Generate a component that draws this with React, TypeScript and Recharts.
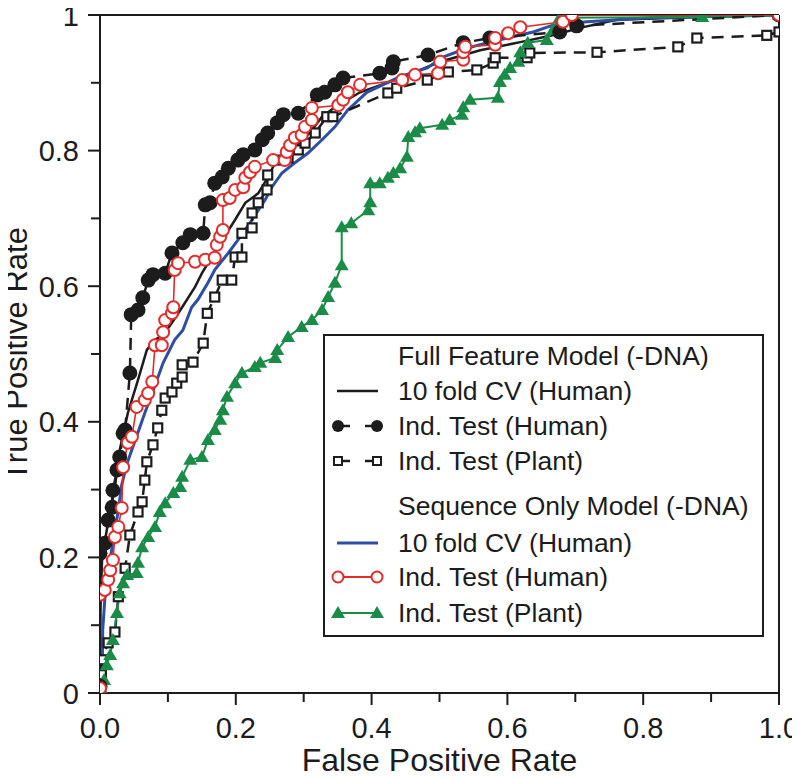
import React from "react";
import { LineChart, Line, XAxis, YAxis, ReferenceLine, Label } from "recharts";

const FONT = '"Liberation Sans", Arial, Helvetica, sans-serif';
const INK = "#1c1c1c";
const BLUE = "#2e4ea3";
const RED = "#e42a2a";
const GREEN = "#1b8c47";

const axisTicks = [0, 0.1, 0.2, 0.3, 0.4, 0.5, 0.6, 0.7, 0.8, 0.9, 1];

// Full Feature Model, 10 fold CV (Human)
const fullCvFpr = [0, 0, 0.001, 0.003, 0.006, 0.01, 0.016, 0.022, 0.029, 0.041, 0.056, 0.069, 0.081, 0.093, 0.106, 0.121, 0.14, 0.15, 0.162, 0.18, 0.199, 0.214, 0.233, 0.247, 0.258, 0.275, 0.297, 0.312, 0.327, 0.346, 0.383, 0.442, 0.501, 0.56, 0.619, 0.67, 0.707, 0.761, 0.884, 1];
const fullCvTpr = [0, 0.078, 0.137, 0.196, 0.218, 0.24, 0.277, 0.304, 0.358, 0.413, 0.462, 0.506, 0.521, 0.528, 0.546, 0.569, 0.599, 0.619, 0.639, 0.668, 0.698, 0.723, 0.737, 0.76, 0.782, 0.801, 0.813, 0.83, 0.85, 0.864, 0.886, 0.907, 0.931, 0.948, 0.96, 0.971, 0.981, 0.993, 0.997, 1];

// Full Feature Model, Ind. Test (Human)
const fullHumanFpr = [0, 0, 0.007, 0.012, 0.018, 0.019, 0.025, 0.029, 0.034, 0.037, 0.044, 0.046, 0.056, 0.063, 0.071, 0.078, 0.096, 0.106, 0.122, 0.133, 0.152, 0.155, 0.162, 0.169, 0.18, 0.189, 0.203, 0.211, 0.228, 0.239, 0.247, 0.261, 0.27, 0.292, 0.32, 0.331, 0.346, 0.358, 0.412, 0.43, 0.432, 0.483, 0.535, 0.574, 0.677, 0.702, 1];
const fullHumanTpr = [0.01, 0.206, 0.221, 0.255, 0.274, 0.299, 0.329, 0.348, 0.383, 0.388, 0.472, 0.558, 0.565, 0.583, 0.609, 0.617, 0.619, 0.649, 0.664, 0.676, 0.678, 0.72, 0.723, 0.752, 0.761, 0.774, 0.786, 0.794, 0.801, 0.816, 0.826, 0.841, 0.853, 0.855, 0.882, 0.886, 0.897, 0.907, 0.914, 0.922, 0.931, 0.941, 0.959, 0.966, 0.975, 0.984, 1];

// Full Feature Model, Ind. Test (Plant)
const fullPlantFpr = [0, 0.002, 0.003, 0.012, 0.022, 0.027, 0.037, 0.044, 0.056, 0.062, 0.066, 0.069, 0.078, 0.085, 0.091, 0.096, 0.106, 0.113, 0.121, 0.121, 0.137, 0.152, 0.158, 0.169, 0.18, 0.194, 0.199, 0.209, 0.209, 0.224, 0.224, 0.233, 0.246, 0.247, 0.261, 0.277, 0.292, 0.302, 0.317, 0.334, 0.343, 0.424, 0.437, 0.482, 0.513, 0.555, 0.579, 0.582, 0.629, 0.633, 0.732, 0.851, 0.879, 0.982, 1];
const fullPlantTpr = [0.007, 0.027, 0.049, 0.074, 0.09, 0.142, 0.184, 0.233, 0.267, 0.282, 0.314, 0.341, 0.366, 0.391, 0.417, 0.435, 0.444, 0.457, 0.466, 0.484, 0.488, 0.516, 0.56, 0.584, 0.609, 0.609, 0.643, 0.643, 0.678, 0.686, 0.708, 0.723, 0.742, 0.764, 0.786, 0.789, 0.801, 0.811, 0.826, 0.85, 0.85, 0.885, 0.892, 0.904, 0.916, 0.919, 0.929, 0.937, 0.937, 0.944, 0.945, 0.953, 0.966, 0.97, 0.975];

// Sequence Only Model, 10 fold CV (Human)
const seqCvFpr = [0, 0.003, 0.004, 0.007, 0.012, 0.019, 0.027, 0.032, 0.04, 0.052, 0.066, 0.084, 0.093, 0.11, 0.122, 0.135, 0.144, 0.159, 0.169, 0.189, 0.203, 0.224, 0.243, 0.253, 0.268, 0.287, 0.306, 0.327, 0.346, 0.365, 0.393, 0.442, 0.482, 0.505, 0.54, 0.574, 0.608, 0.638, 0.667, 0.717, 0.81, 1];
const seqCvTpr = [0, 0.004, 0.093, 0.137, 0.181, 0.221, 0.27, 0.307, 0.339, 0.373, 0.413, 0.462, 0.487, 0.521, 0.535, 0.569, 0.58, 0.605, 0.624, 0.649, 0.668, 0.698, 0.727, 0.746, 0.767, 0.782, 0.796, 0.816, 0.835, 0.86, 0.886, 0.909, 0.922, 0.938, 0.951, 0.96, 0.968, 0.975, 0.985, 0.99, 0.996, 1];

// Sequence Only Model, Ind. Test (Human)
const seqHumanFpr = [0, 0, 0.007, 0.012, 0.015, 0.019, 0.022, 0.027, 0.032, 0.034, 0.041, 0.047, 0.054, 0.066, 0.071, 0.077, 0.081, 0.091, 0.093, 0.096, 0.106, 0.108, 0.11, 0.115, 0.14, 0.155, 0.169, 0.172, 0.177, 0.181, 0.181, 0.191, 0.199, 0.211, 0.214, 0.221, 0.228, 0.255, 0.272, 0.275, 0.28, 0.287, 0.297, 0.302, 0.312, 0.312, 0.351, 0.358, 0.365, 0.383, 0.445, 0.464, 0.498, 0.501, 0.535, 0.535, 0.538, 0.582, 0.582, 0.601, 0.619, 0.682, 0.695, 1];
const seqHumanTpr = [0.007, 0.145, 0.152, 0.167, 0.181, 0.196, 0.23, 0.245, 0.273, 0.333, 0.369, 0.378, 0.422, 0.432, 0.442, 0.459, 0.513, 0.513, 0.532, 0.55, 0.56, 0.569, 0.624, 0.634, 0.636, 0.639, 0.642, 0.661, 0.673, 0.683, 0.727, 0.73, 0.742, 0.746, 0.76, 0.768, 0.776, 0.786, 0.786, 0.798, 0.808, 0.819, 0.823, 0.835, 0.845, 0.863, 0.867, 0.875, 0.886, 0.897, 0.904, 0.912, 0.914, 0.931, 0.934, 0.945, 0.953, 0.956, 0.966, 0.973, 0.982, 0.99, 1, 1];

// Sequence Only Model, Ind. Test (Plant)
const seqPlantFpr = [0, 0.003, 0.006, 0.01, 0.015, 0.019, 0.025, 0.029, 0.034, 0.04, 0.054, 0.056, 0.062, 0.071, 0.081, 0.088, 0.096, 0.108, 0.118, 0.121, 0.133, 0.15, 0.159, 0.169, 0.177, 0.181, 0.187, 0.199, 0.209, 0.228, 0.236, 0.258, 0.261, 0.277, 0.297, 0.312, 0.327, 0.336, 0.346, 0.356, 0.356, 0.37, 0.395, 0.398, 0.398, 0.412, 0.424, 0.432, 0.442, 0.452, 0.454, 0.464, 0.471, 0.504, 0.515, 0.533, 0.535, 0.545, 0.586, 0.589, 0.596, 0.604, 0.616, 0.619, 0.63, 0.658, 0.667, 0.677, 0.887, 1];
const seqPlantTpr = [0, 0.004, 0.019, 0.041, 0.056, 0.078, 0.118, 0.147, 0.162, 0.174, 0.177, 0.192, 0.215, 0.23, 0.245, 0.267, 0.28, 0.295, 0.304, 0.319, 0.344, 0.348, 0.373, 0.388, 0.403, 0.417, 0.437, 0.457, 0.472, 0.481, 0.487, 0.494, 0.506, 0.525, 0.54, 0.55, 0.565, 0.584, 0.605, 0.631, 0.687, 0.693, 0.712, 0.724, 0.752, 0.752, 0.76, 0.767, 0.774, 0.791, 0.82, 0.827, 0.833, 0.838, 0.845, 0.853, 0.864, 0.875, 0.878, 0.901, 0.912, 0.922, 0.931, 0.945, 0.959, 0.963, 0.978, 0.996, 0.997, 1];

const zip = (xs: number[], ys: number[]) => xs.map((x, i) => ({ x, y: ys[i] }));

const XTick = (props: any) => {
  const { x, y, payload } = props;
  const v = payload.value;
  const major = Math.round(v * 10) % 2 === 0;
  return (
    <g>
      <line x1={x} x2={x} y1={y} y2={y + (major ? 12 : 9)} stroke={INK} strokeWidth={2} />
      {major && (
        <text x={x} y={y + 45} textAnchor="middle" fontSize={29} fontFamily={FONT} fill={INK}>
          {v.toFixed(1)}
        </text>
      )}
    </g>
  );
};

const YTick = (props: any) => {
  const { x, y, payload } = props;
  const v = payload.value;
  const major = Math.round(v * 10) % 2 === 0;
  const text = v === 0 ? "0" : v === 1 ? "1" : v.toFixed(1);
  return (
    <g>
      <line x1={x} x2={x - (major ? 12 : 9)} y1={y} y2={y} stroke={INK} strokeWidth={2} />
      {major && (
        <text x={x - 21} y={y + 10.5} textAnchor="end" fontSize={29} fontFamily={FONT} fill={INK}>
          {text}
        </text>
      )}
    </g>
  );
};

const blackDot = (p: any) => <circle key={`b${p.index}`} cx={p.cx} cy={p.cy} r={7.5} fill={INK} />;
const redDot = (p: any) => (
  <circle key={`r${p.index}`} cx={p.cx} cy={p.cy} r={6} fill="#fff" stroke={RED} strokeWidth={2} />
);
const squareDot = (p: any) => (
  <rect key={`s${p.index}`} x={p.cx - 4.5} y={p.cy - 4.5} width={9} height={9} fill="#fff" stroke={INK} strokeWidth={2.2} />
);
const triDot = (p: any) => (
  <polygon
    key={`t${p.index}`}
    points={`${p.cx},${p.cy - 7} ${p.cx - 7},${p.cy + 5} ${p.cx + 7},${p.cy + 5}`}
    fill={GREEN}
  />
);

const LegendIcon = ({ kind }: { kind: string }) => {
  const a = 10;
  const b = 49;
  const c = 12;
  if (kind === "none") return <svg width={60} height={24} />;
  return (
    <svg width={60} height={24}>
      {kind === "black" && <line x1={a - 1} x2={b + 1} y1={c} y2={c} stroke={INK} strokeWidth={2.5} />}
      {kind === "blue" && <line x1={a - 1} x2={b + 1} y1={c} y2={c} stroke={BLUE} strokeWidth={3} />}
      {kind === "circles" && (
        <g>
          <line x1={a} x2={a + 12} y1={c} y2={c} stroke={INK} strokeWidth={2.5} />
          <line x1={b - 12} x2={b} y1={c} y2={c} stroke={INK} strokeWidth={2.5} />
          <circle cx={a} cy={c} r={6} fill={INK} />
          <circle cx={b} cy={c} r={6} fill={INK} />
        </g>
      )}
      {kind === "squares" && (
        <g>
          <line x1={a} x2={a + 12} y1={c} y2={c} stroke={INK} strokeWidth={2.5} />
          <line x1={b - 12} x2={b} y1={c} y2={c} stroke={INK} strokeWidth={2.5} />
          <rect x={a - 4} y={c - 4} width={8} height={8} fill="#fff" stroke={INK} strokeWidth={2} />
          <rect x={b - 4} y={c - 4} width={8} height={8} fill="#fff" stroke={INK} strokeWidth={2} />
        </g>
      )}
      {kind === "red" && (
        <g>
          <line x1={a} x2={b} y1={c} y2={c} stroke={RED} strokeWidth={1.8} />
          <circle cx={a} cy={c} r={5.5} fill="#fff" stroke={RED} strokeWidth={2} />
          <circle cx={b} cy={c} r={5.5} fill="#fff" stroke={RED} strokeWidth={2} />
        </g>
      )}
      {kind === "green" && (
        <g>
          <line x1={a} x2={b} y1={c} y2={c} stroke={GREEN} strokeWidth={2} />
          <polygon points={`${a},${c - 7} ${a - 7},${c + 5} ${a + 7},${c + 5}`} fill={GREEN} />
          <polygon points={`${b},${c - 7} ${b - 7},${c + 5} ${b + 7},${c + 5}`} fill={GREEN} />
        </g>
      )}
    </svg>
  );
};

const legendLabels = [
  "Full Feature Model (-DNA)",
  "10 fold CV (Human)",
  "Ind. Test (Human)",
  "Ind. Test (Plant)",
  "Sequence Only Model (-DNA)",
  "10 fold CV (Human)",
  "Ind. Test (Human)",
  "Ind. Test (Plant)",
];
const legendKinds = ["none", "black", "circles", "squares", "none", "blue", "red", "green"];
const legendCenters = [20, 55, 90, 125, 170, 207, 241, 277];

export default function App() {
  return (
    <div style={{ position: "relative", width: 800, height: 779, margin: -8, fontFamily: FONT }}>
      <LineChart width={800} height={779} margin={{ top: 15, right: 21, bottom: 0, left: 0 }}>
        <XAxis
          type="number"
          dataKey="x"
          domain={[0, 1]}
          ticks={axisTicks}
          tick={XTick}
          tickSize={0}
          tickMargin={0}
          tickLine={false}
          height={86}
          axisLine={{ stroke: INK, strokeWidth: 2 }}
          allowDataOverflow
        >
          <Label
            content={({ viewBox }: any) => (
              <text
                x={viewBox.x + viewBox.width / 2}
                y={viewBox.y + 78}
                textAnchor="middle"
                fontSize={32}
                fontFamily={FONT}
                fill={INK}
              >
                False Positive Rate
              </text>
            )}
          />
        </XAxis>
        <YAxis
          type="number"
          dataKey="y"
          domain={[0, 1]}
          ticks={axisTicks}
          tick={YTick}
          tickSize={0}
          tickMargin={0}
          tickLine={false}
          width={100}
          axisLine={{ stroke: INK, strokeWidth: 2 }}
          allowDataOverflow
        >
          <Label
            content={({ viewBox }: any) => {
              const cx = 27;
              const cy = viewBox.y + viewBox.height / 2;
              return (
                <text
                  x={cx}
                  y={cy}
                  transform={`rotate(-90 ${cx} ${cy})`}
                  textAnchor="middle"
                  fontSize={31}
                  fontFamily={FONT}
                  fill={INK}
                >
                  True Positive Rate
                </text>
              );
            }}
          />
        </YAxis>
        <ReferenceLine y={1} stroke={INK} strokeWidth={2} />
        <ReferenceLine x={1} stroke={INK} strokeWidth={2} />
        <Line
          data={zip(fullCvFpr, fullCvTpr)}
          dataKey="y"
          type="linear"
          stroke={INK}
          strokeWidth={2.5}
          dot={false}
          isAnimationActive={false}
        />
        <Line
          data={zip(seqCvFpr, seqCvTpr)}
          dataKey="y"
          type="linear"
          stroke={BLUE}
          strokeWidth={3}
          dot={false}
          isAnimationActive={false}
        />
        <Line
          data={zip(fullPlantFpr, fullPlantTpr)}
          dataKey="y"
          type="linear"
          stroke={INK}
          strokeWidth={2.5}
          strokeDasharray="12 8"
          dot={squareDot}
          isAnimationActive={false}
        />
        <Line
          data={zip(seqPlantFpr, seqPlantTpr)}
          dataKey="y"
          type="linear"
          stroke={GREEN}
          strokeWidth={2}
          dot={triDot}
          isAnimationActive={false}
        />
        <Line
          data={zip(fullHumanFpr, fullHumanTpr)}
          dataKey="y"
          type="linear"
          stroke={INK}
          strokeWidth={2.5}
          strokeDasharray="12 8"
          dot={blackDot}
          isAnimationActive={false}
        />
        <Line
          data={zip(seqHumanFpr, seqHumanTpr)}
          dataKey="y"
          type="linear"
          stroke={RED}
          strokeWidth={1.6}
          dot={redDot}
          isAnimationActive={false}
        />
      </LineChart>
      <div
        style={{
          position: "absolute",
          left: 323,
          top: 334,
          width: 441,
          height: 303,
          boxSizing: "border-box",
          border: `2px solid ${INK}`,
          background: "#fff",
        }}
      >
        {legendLabels.map((label, i) => (
          <div
            key={i}
            style={{
              position: "absolute",
              left: 3,
              top: legendCenters[i] - 17,
              height: 34,
              display: "flex",
              alignItems: "center",
              whiteSpace: "nowrap",
            }}
          >
            <LegendIcon kind={legendKinds[i]} />
            <span style={{ marginLeft: 10, fontSize: 26.5, lineHeight: "34px", color: INK }}>{label}</span>
          </div>
        ))}
      </div>
    </div>
  );
}
